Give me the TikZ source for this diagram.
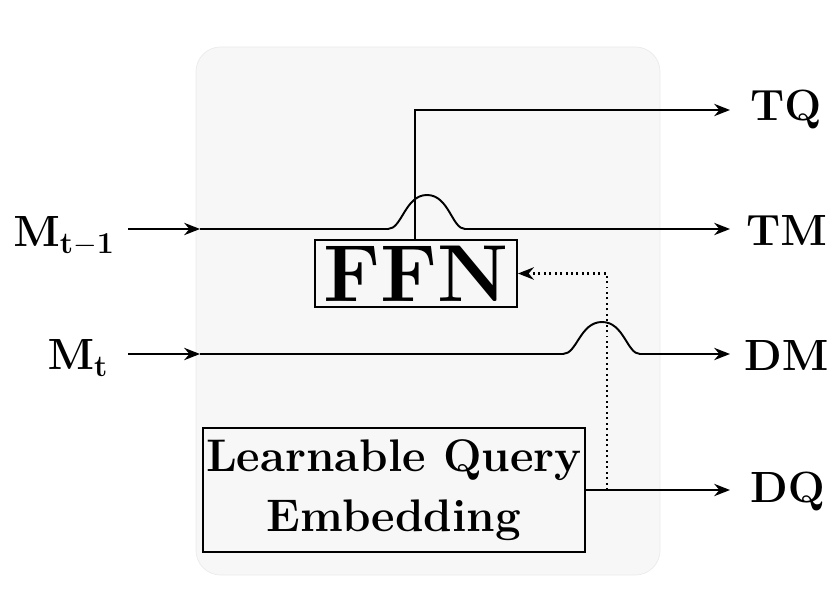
\documentclass[tikz,border=0pt]{standalone}
\usepackage{amsmath}
\usetikzlibrary{arrows.meta,positioning}
\tikzset{
  wire/.style={line width=1.1pt},
  arr/.style={wire,-{Stealth[length=9pt,width=7pt]}},
  blk/.style={draw,line width=1.1pt,align=center,font=\bfseries},
  lbl/.style={font=\fontsize{27}{30}\selectfont},
}
\begin{document}
\begin{tikzpicture}[x=0.02cm,y=-0.02cm]
\useasboundingbox (0,0) rectangle (831,604);
% background panel
\draw[rounded corners=14pt,fill=black!3,draw=black!8] (196,47) rectangle (660,575);
% blocks
\node[blk,minimum width=202*0.02cm,minimum height=67*0.02cm,font=\fontsize{46}{50}\selectfont\bfseries,inner sep=0pt] (ffn) at (416,273.5) {FFN};
\node[blk,minimum width=382*0.02cm,minimum height=124*0.02cm,inner sep=0pt,font=\fontsize{26}{34}\selectfont\bfseries] (lqe) at (394,490) {Learnable Query\\Embedding};
% labels
\node[lbl] (mprev) at (64,236) {$\mathbf{M_{t-1}}$};
\node[lbl] (mcur) at (78,358) {$\mathbf{M_t}$};
\node[lbl,anchor=west] (tq) at (744,110) {$\mathbf{TQ}$};
\node[lbl,anchor=west] (tm) at (740,231) {$\mathbf{TM}$};
\node[lbl,anchor=west] (dm) at (738,356) {$\mathbf{DM}$};
\node[lbl,anchor=west] (dq) at (744,492) {$\mathbf{DQ}$};
% coordinates
\coordinate (a1) at (128,229); \coordinate (a2) at (200,229);
\coordinate (h1) at (388,229); \coordinate (h2) at (465,229);
\coordinate (b1) at (128,354); \coordinate (b2) at (200,354);
\coordinate (k1) at (563,354); \coordinate (k2) at (640,354);
\coordinate (tqc) at (415,110); \coordinate (tqe) at (730,110);
\coordinate (tme) at (730,229); \coordinate (dme) at (730,354);
\coordinate (dqc) at (607,490); \coordinate (dqe) at (730,490);
% inputs
\draw[arr] (a1) -- (a2);
\draw[arr] (b1) -- (b2);
% upper line with hop
\draw[wire] (a2) -- (h1) .. controls (402,229) and (405,195) .. (427,195)
  .. controls (449,195) and (452,229) .. (h2);
\draw[arr] (h2) -- (tme);
% lower line with hop
\draw[wire] (b2) -- (k1) .. controls (577,354) and (580,322) .. (602,322)
  .. controls (624,322) and (627,354) .. (k2);
\draw[arr] (k2) -- (dme);
% FFN to TQ
\draw[arr] (ffn.north -| tqc) -- (tqc) -- (tqe);
% query out
\draw[arr] (lqe.east |- dqc) -- (dqe);
\draw[arr,dotted,line width=1.6pt] (dqc) |- (ffn.east);
\end{tikzpicture}
\end{document}
